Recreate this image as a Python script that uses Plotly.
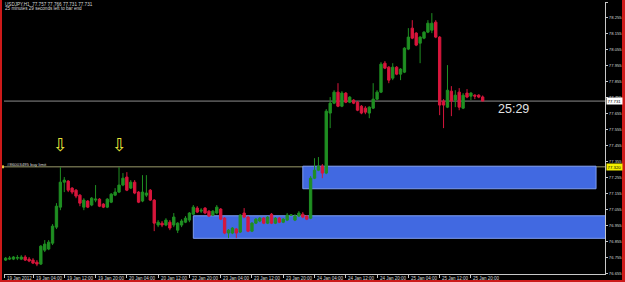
import plotly.graph_objects as go

# ---------------- data (USDJPY H1) ----------------
bars = list(range(-7, 116))
opens = [76.737, 76.743, 76.743, 76.749, 76.743, 76.756, 76.743, 76.737, 76.724, 76.712,
         76.799, 76.806, 76.843, 76.943, 77.068, 77.224, 77.231, 77.187, 77.174, 77.143,
         77.068, 77.106, 77.081, 77.112, 77.118, 77.087, 77.068, 77.099, 77.143, 77.162,
         77.206, 77.256, 77.187, 77.224, 77.162, 77.106, 77.143, 77.174, 77.112, 76.956,
         76.968, 76.956, 76.974, 76.956, 76.924, 76.956, 76.974, 76.987, 77.024, 77.062,
         77.043, 77.062, 77.043, 77.018, 77.031, 77.056, 76.999, 76.906, 76.906, 76.931,
         76.912, 77.031, 77.006, 76.918, 76.968, 76.981, 76.999, 76.968, 77.024, 76.968,
         76.999, 76.974, 76.987, 77.018, 76.987, 77.012, 77.024, 77.012, 76.999, 77.249,
         77.299, 77.324, 77.281, 77.656, 77.718, 77.787, 77.699, 77.781, 77.724, 77.737,
         77.724, 77.699, 77.687, 77.656, 77.687, 77.743, 77.787, 77.968, 77.943, 77.8745,
         77.943, 77.8995, 77.912, 78.056, 78.187, 78.156, 78.093, 78.1245, 78.162, 78.174,
         78.2245, 78.131, 77.731, 77.693, 77.793, 77.737, 77.787, 77.687, 77.781, 77.762,
         77.768, 77.768, 77.757]
highs = [76.756, 76.762, 76.762, 76.768, 76.768, 76.768, 76.756, 76.749, 76.737, 76.831,
         76.862, 76.862, 76.962, 77.093, 77.318, 77.256, 77.237, 77.193, 77.181, 77.149,
         77.124, 77.112, 77.131, 77.206, 77.124, 77.093, 77.124, 77.156, 77.187, 77.318,
         77.281, 77.287, 77.237, 77.237, 77.168, 77.268, 77.268, 77.181, 77.118, 76.987,
         76.981, 76.999, 76.987, 77.031, 76.974, 76.993, 77.012, 77.037, 77.081, 77.074,
         77.062, 77.068, 77.049, 77.049, 77.081, 77.062, 77.006, 76.931, 76.943, 76.937,
         77.024, 77.062, 77.012, 76.974, 76.999, 77.006, 77.006, 77.012, 77.031, 77.006,
         77.006, 76.999, 77.031, 77.024, 77.024, 77.043, 77.037, 77.018, 77.262, 77.374,
         77.381, 77.337, 77.681, 77.756, 77.799, 77.843, 77.793, 77.787, 77.762, 77.743,
         77.731, 77.706, 77.699, 77.699, 77.843, 77.799, 77.9745, 77.981, 77.9495, 77.968,
         77.9495, 77.937, 78.068, 78.187, 78.237, 78.162, 78.137, 78.168, 78.237, 78.281,
         78.237, 78.137, 77.743, 77.956, 77.8245, 77.799, 77.812, 77.781, 77.806, 77.787,
         77.774, 77.774, 77.766]
lows = [76.731, 76.737, 76.737, 76.737, 76.737, 76.731, 76.724, 76.712, 76.699, 76.706,
        76.787, 76.799, 76.831, 76.931, 77.049, 77.162, 77.162, 77.149, 77.124, 77.074,
        77.049, 77.062, 77.074, 77.099, 77.068, 77.062, 77.062, 77.093, 77.137, 77.156,
        77.199, 77.168, 77.181, 77.149, 77.093, 77.099, 77.131, 77.106, 76.918, 76.943,
        76.943, 76.949, 76.924, 76.943, 76.906, 76.943, 76.968, 76.974, 77.018, 77.031,
        77.031, 77.024, 77.006, 77.012, 77.024, 76.987, 76.899, 76.874, 76.899, 76.874,
        76.906, 76.999, 76.912, 76.912, 76.962, 76.974, 76.962, 76.962, 76.962, 76.962,
        76.968, 76.968, 76.981, 77.012, 76.981, 77.006, 76.999, 76.987, 76.993, 77.243,
        77.293, 77.249, 77.274, 77.562, 77.712, 77.693, 77.693, 77.718, 77.718, 77.712,
        77.668, 77.649, 77.649, 77.624, 77.681, 77.737, 77.781, 77.931, 77.843, 77.862,
        77.893, 77.862, 77.906, 78.0495, 78.118, 78.0745, 77.968, 78.118, 78.156, 78.156,
        78.1245, 77.643, 77.562, 77.687, 77.637, 77.693, 77.674, 77.681, 77.749, 77.737,
        77.743, 77.749, 77.731]
closes = [76.749, 76.749, 76.756, 76.753, 76.756, 76.737, 76.731, 76.718, 76.712, 76.824,
          76.837, 76.849, 76.949, 77.074, 77.224, 77.237, 77.174, 77.162, 77.137, 77.093,
          77.112, 77.068, 77.124, 77.118, 77.074, 77.068, 77.118, 77.149, 77.162, 77.206,
          77.249, 77.174, 77.224, 77.156, 77.099, 77.162, 77.156, 77.112, 76.968, 76.974,
          76.956, 76.987, 76.937, 77.006, 76.968, 76.981, 76.999, 77.031, 77.068, 77.037,
          77.049, 77.031, 77.012, 77.043, 77.068, 76.993, 76.906, 76.924, 76.937, 76.906,
          77.018, 77.006, 76.918, 76.968, 76.993, 76.999, 76.968, 77.006, 76.968, 76.999,
          76.974, 76.993, 77.018, 77.019, 77.012, 77.031, 77.006, 76.993, 77.249, 77.299,
          77.324, 77.281, 77.668, 77.718, 77.787, 77.699, 77.781, 77.724, 77.756, 77.718,
          77.674, 77.656, 77.662, 77.693, 77.743, 77.787, 77.962, 77.937, 77.862, 77.943,
          77.8995, 77.931, 78.062, 78.131, 78.1245, 78.081, 78.131, 78.162, 78.218, 78.218,
          78.131, 77.706, 77.706, 77.799, 77.731, 77.768, 77.693, 77.768, 77.756, 77.781,
          77.762, 77.756, 77.731]

x_tick_bars = [-7.4, 0, 8, 16, 24, 32, 40, 48, 56, 64, 72, 80, 88, 96, 104, 112]
x_tick_labels = ["19 Jan 2012", "19 Jan 04:00", "19 Jan 12:00", "19 Jan 20:00", "20 Jan 04:00",
                 "20 Jan 12:00", "22 Jan 20:00", "23 Jan 04:00", "23 Jan 12:00", "23 Jan 20:00",
                 "24 Jan 04:00", "24 Jan 12:00", "24 Jan 20:00", "25 Jan 04:00", "25 Jan 12:00",
                 "25 Jan 20:00"]
y_tick_vals = [76.655, 76.755, 76.855, 76.955, 77.055, 77.155, 77.255, 77.355, 77.455,
               77.555, 77.655, 77.755, 77.855, 77.955, 78.055, 78.155, 78.255, 78.350]
y_tick_labels = ["76.655", "76.755", "76.855", "76.955", "77.055", "77.155", "77.255", "77.355",
                 "77.455", "77.555", "77.655", "77.755", "77.855", "77.955", "78.055", "78.155",
                 "78.255", "78.350"]

bid_price = 77.731
order_price = 77.320
order_label = "#86003495 buy limit"
upper_zone_bars = [69, 144]
upper_zone_prices = [77.183, 77.324]
lower_zone_bars = [41, 170]
lower_zone_prices = [76.873, 77.014]
arrow_bars = [7, 22]
arrow_price = 77.46
header_lines = ["USDJPY,H1  77.757 77.766 77.731 77.731",
                "25 minutes 29 seconds left to bar end"]
timer_text = "25:29"

# ---------------- styling ----------------
GREEN = "#1f8f22"
RED = "#d8163c"
TXT = "#d6d6d6"
AXIS = "#c8c8c8"
FONT = "Liberation Sans"

fig = go.Figure()
fig.add_trace(go.Candlestick(
    x=bars, open=opens, high=highs, low=lows, close=closes,
    increasing=dict(line=dict(color=GREEN, width=1), fillcolor=GREEN),
    decreasing=dict(line=dict(color=RED, width=1), fillcolor=RED),
    whiskerwidth=0, hoverinfo="skip", showlegend=False,
))

shapes = []
# order line and bid line (behind everything)
shapes.append(dict(type="line", xref="paper", x0=0, x1=1, yref="y", y0=order_price, y1=order_price,
                   line=dict(color="#9a9a6a", width=1), layer="below"))
shapes.append(dict(type="line", xref="paper", x0=0, x1=1, yref="y", y0=bid_price, y1=bid_price,
                   line=dict(color="#8c8c8c", width=1), layer="below"))
# supply/demand zones
for zb, zp in [(upper_zone_bars, upper_zone_prices), (lower_zone_bars, lower_zone_prices)]:
    shapes.append(dict(type="rect", xref="x", yref="y", x0=zb[0], x1=zb[1], y0=zp[0], y1=zp[1],
                       fillcolor="#4169e1", line=dict(color="#7d9cf0", width=1), layer="below"))
# order handle square at left
shapes.append(dict(type="rect", xref="paper", yref="y", x0=-0.0035, x1=0.0, y0=order_price - 0.009,
                   y1=order_price + 0.009, fillcolor="#e8c040", line=dict(width=0)))
# red window frame
RF = "#cc1a1a"
shapes += [
    dict(type="rect", xref="paper", yref="paper", x0=-4 / 601, x1=-2 / 601, y0=-8 / 272, y1=276 / 272,
         fillcolor=RF, line=dict(width=0)),
    dict(type="rect", xref="paper", yref="paper", x0=618 / 601, x1=621 / 601, y0=-8 / 272, y1=276 / 272,
         fillcolor=RF, line=dict(width=0)),
    dict(type="rect", xref="paper", yref="paper", x0=-4 / 601, x1=621 / 601, y0=274.5 / 272, y1=276 / 272,
         fillcolor=RF, line=dict(width=0)),
    dict(type="rect", xref="paper", yref="paper", x0=-4 / 601, x1=621 / 601, y0=-8 / 272, y1=-6 / 272,
         fillcolor=RF, line=dict(width=0)),
]

ann = []
for xb, lab in zip(x_tick_bars, x_tick_labels):
    ann.append(dict(x=xb, xref="x", y=0, yref="paper", text=lab, showarrow=False,
                    xanchor="left", yanchor="middle", xshift=0.5, yshift=-4.8,
                    font=dict(family=FONT, size=4.5, color=TXT)))
for i, line in enumerate(header_lines):
    ann.append(dict(x=0, xref="paper", y=1, yref="paper", text=line, showarrow=False,
                    xanchor="left", yanchor="middle", xshift=-1, yshift=-2.5 - 4 * i,
                    font=dict(family=FONT, size=4.6, color=TXT)))
ann.append(dict(x=0, xref="paper", y=order_price, yref="y", text=order_label, showarrow=False,
                xanchor="left", yanchor="middle", xshift=0.5, yshift=2.6,
                font=dict(family=FONT, size=4.4, color=TXT)))
for ab in arrow_bars:
    ann.append(dict(x=ab, xref="x", y=arrow_price, yref="y", text="\u21e9", showarrow=False,
                    xanchor="center", yanchor="middle",
                    font=dict(family="DejaVu Sans", size=18, color="#e6e23a")))
ann.append(dict(x=122.8, xref="x", y=77.684, yref="y", text=timer_text, showarrow=False,
                xanchor="center", yanchor="middle",
                font=dict(family=FONT, size=12.5, color="#e2e2e2")))
# price boxes on the axis
ann.append(dict(x=1, xref="paper", y=bid_price, yref="y", text=f"{bid_price:.3f}", showarrow=False,
                xanchor="left", yanchor="middle", xshift=1, bgcolor="#ffffff", borderpad=0.6,
                font=dict(family=FONT, size=4.3, color="#000000")))
ann.append(dict(x=1, xref="paper", y=order_price, yref="y", text=f"{order_price:.3f}", showarrow=False,
                xanchor="left", yanchor="middle", xshift=1, bgcolor="#f4f000", borderpad=0.6,
                font=dict(family=FONT, size=4.3, color="#000000")))

fig.update_layout(
    width=625, height=282,
    margin=dict(l=4, r=20, t=2, b=8, autoexpand=False),
    paper_bgcolor="#000000", plot_bgcolor="#000000",
    boxgap=0.4, boxgroupgap=0,
    shapes=shapes, annotations=ann, showlegend=False,
    xaxis=dict(range=[-7.42, 146.29], rangeslider=dict(visible=False), showgrid=False, zeroline=False,
               showline=True, linecolor=AXIS, linewidth=1, ticks="outside", ticklen=3, tickwidth=1,
               tickcolor=AXIS, tickvals=x_tick_bars, showticklabels=False, fixedrange=True),
    yaxis=dict(range=[76.650, 78.3505], side="right", showgrid=False, zeroline=False,
               showline=True, linecolor=AXIS, linewidth=1, ticks="outside", ticklen=2, tickwidth=1,
               tickcolor=AXIS, tickvals=y_tick_vals, ticktext=y_tick_labels,
               tickfont=dict(family=FONT, size=4.2, color=TXT), automargin=False, fixedrange=True),
)

fig.write_html("out.html", config=dict(displayModeBar=False))
